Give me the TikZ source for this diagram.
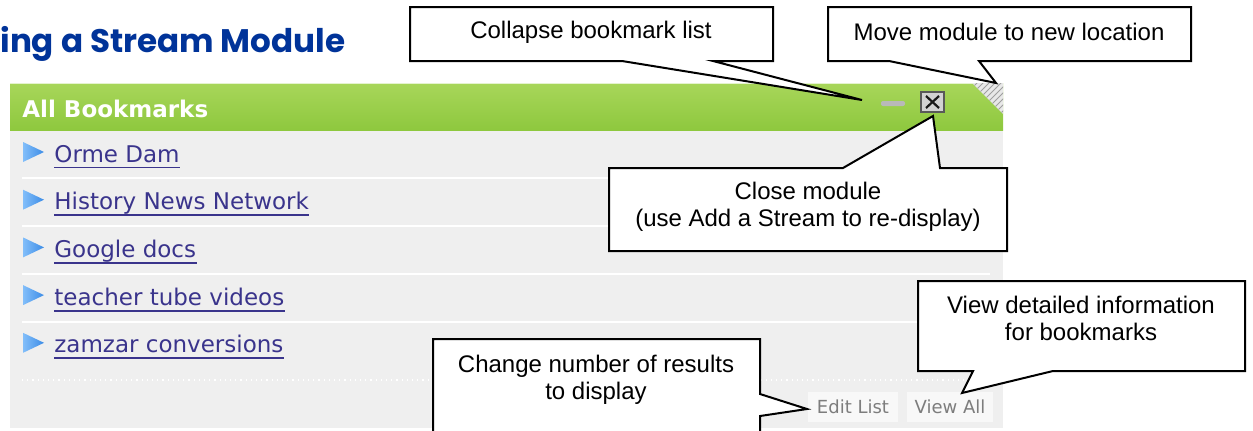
\documentclass[tikz,border=0pt]{standalone}
\usepackage{fontspec}
\setmainfont{Liberation Sans}
\newfontfamily\uifont{DejaVu Sans}
\newfontfamily\titlefont{Poppins}
\usetikzlibrary{patterns,calc}
\definecolor{titleblue}{RGB}{0,51,153}
\definecolor{hdrtop}{RGB}{168,214,90}
\definecolor{hdrbot}{RGB}{142,200,62}
\definecolor{bodygray}{RGB}{239,239,239}
\definecolor{linkcol}{RGB}{58,52,140}
\definecolor{tridark}{RGB}{60,140,230}
\definecolor{trilight}{RGB}{130,190,250}
\definecolor{btnfill}{RGB}{248,248,248}
\definecolor{btntext}{RGB}{125,125,125}
\pgfdeclarelayer{panel}
\pgfdeclarelayer{balloon}
\pgfsetlayers{panel,balloon,main}
\tikzset{
  balloonshape/.style={fill=white, draw=black, line width=1pt, line join=miter},
  balloontext/.style={inner sep=0pt, align=center, font=\fontsize{12}{13.5}\selectfont},
  linktext/.style={anchor=base west, inner sep=0pt, text=linkcol, font=\uifont\fontsize{11.5}{13}\selectfont},
  linkline/.style={draw=linkcol, line width=0.9pt},
  sepline/.style={draw=white, line width=1pt},
  bullet/.style={left color=trilight, right color=tridark},
  btnbox/.style={fill=btnfill, draw=none},
  btntxt/.style={inner sep=0pt, text=btntext, font=\uifont\fontsize{9}{11}\selectfont}
}
\begin{document}
\begin{tikzpicture}[x=0.5pt,y=-0.5pt]
\useasboundingbox (0,0) rectangle (1253,430);

% ---------- module panel ----------
\begin{pgfonlayer}{panel}
  \fill[bodygray] (10,130) rectangle (1003,428);
  \shade[top color=hdrtop, bottom color=hdrbot] (10,83) rectangle (1003,130);
  \draw[white!70!hdrtop, line width=0.5pt] (10,83.5) -- (1003,83.5);
  \fill[gray!18] (972,83) -- (1003,83) -- (1003,114) -- cycle;
  \fill[pattern=north east lines, pattern color=gray!75] (972,83) -- (1003,83) -- (1003,114) -- cycle;
  % minimise and close icons
  \fill[gray!55, rounded corners=1pt] (881,101) rectangle (905,106);
  \draw[fill=gray!35, draw=gray!70!black, line width=0.6pt] (921,92) rectangle (944,112);
  \draw[gray!20!black, line width=1.1pt] (926,96) -- (939,108) (939,96) -- (926,108);
  % separators
  \foreach \yy in {178,226,274,322} \draw[sepline] (22,\yy) -- (990,\yy);
  \draw[white, line width=0.6pt, dotted] (22,380) -- (990,380);
  % buttons
  \fill[btnfill] (808,392) rectangle (898,422);
  \fill[btnfill] (907,392) rectangle (993,422);
  % bullets
  \foreach \b in {162,209.7,257.4,305.1,352.8}
    \shade[bullet] (23,\b-20) -- (44,\b-10) -- (23,\b) -- cycle;
\end{pgfonlayer}

% ---------- texts of the panel ----------
\node[anchor=base west, inner sep=0pt, text=titleblue,
      font=\titlefont\bfseries\fontsize{16.3}{19}\selectfont] (title) at (0,52) {ing a Stream Module};
\node[anchor=base west, inner sep=0pt, text=white,
      font=\uifont\bfseries\fontsize{11.5}{13}\selectfont] (hdr) at (22,117) {All Bookmarks};

\node[linktext] (i1) at (54,162)   {Orme Dam};
\node[linktext] (i2) at (54,209.7) {History News Network};
\node[linktext] (i3) at (54,257.4) {Google docs};
\node[linktext] (i4) at (54,305.1) {teacher tube videos};
\node[linktext] (i5) at (54,352.8) {zamzar conversions};
\foreach \n in {i1,i2,i3,i4,i5}
  \draw[linkline] ($(\n.base west)+(0,5.5)$) -- ($(\n.base east)+(0,5.5)$);

\node[btntxt] (edit) at (853,407) {Edit List};
\node[btntxt] (viewall) at (950,407) {View All};

% ---------- callouts ----------
\coordinate (tip1) at (862,100);
\coordinate (tip2) at (996,83);
\coordinate (tip3) at (933,116);
\coordinate (tip4) at (807,409);
\coordinate (tip5) at (962,393);

\begin{pgfonlayer}{balloon}
  \draw[balloonshape] (410,7) -- (773,7) -- (773,61) -- (713,61) -- (tip1) -- (622,61) -- (410,61) -- cycle;
  \draw[balloonshape] (828,7) -- (1191,7) -- (1191,61) -- (979,61) -- (tip2) -- (889,61) -- (828,61) -- cycle;
  \draw[balloonshape] (609,168) -- (843,168) -- (tip3) -- (940,168) -- (1007,168) -- (1007,251) -- (609,251) -- cycle;
  \draw[balloonshape] (433,339) -- (760,339) -- (760,394) -- (tip4) -- (760,416) -- (760,448) -- (433,448) -- cycle;
  \draw[balloonshape] (918,281) -- (1245,281) -- (1245,371) -- (1053,371) -- (tip5) -- (973,371) -- (918,371) -- cycle;
\end{pgfonlayer}

\node[balloontext] (c1) at (591,32) {Collapse bookmark list};
\node[balloontext] (c2) at (1009,32) {Move module to new location};
\node[balloontext] (c3) at (808,207) {Close module\\(use Add a Stream to re-display)};
\node[balloontext] (c4) at (596,380) {Change number of results\\to display};
\node[balloontext] (c5) at (1081,318) {View detailed information\\for bookmarks};
\end{tikzpicture}
\end{document}
